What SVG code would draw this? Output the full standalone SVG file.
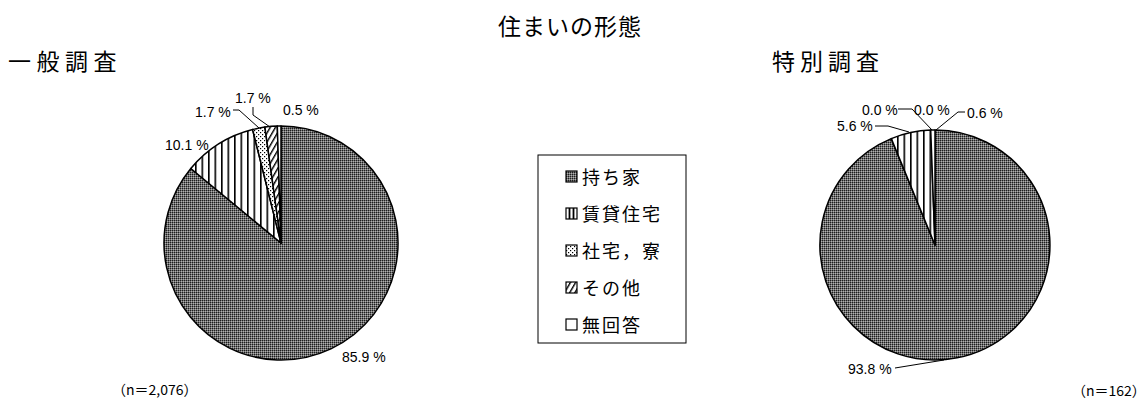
<svg xmlns="http://www.w3.org/2000/svg" width="1146" height="400" viewBox="0 0 1146 400">
<style>
.jp{font-family:"Noto Sans CJK JP","Noto Sans",sans-serif;fill:#000}
.num{font-family:"Liberation Sans",Arial,sans-serif;font-size:14px;fill:#000}
.slice{stroke:#000;stroke-width:1.5;stroke-linejoin:round}
.lead{fill:none;stroke:#000;stroke-width:1}
.mk{stroke:#000;stroke-width:1.2}
</style>
<defs>
<pattern id="pDense" width="2" height="2" patternUnits="userSpaceOnUse">
<rect width="2" height="2" fill="#6e6e6e"/>
<rect width="1" height="1" fill="#1e1e1e"/>
<rect x="1" y="1" width="1" height="1" fill="#b0b0b0"/>
</pattern>
<pattern id="pVert" width="6.5" height="10" patternUnits="userSpaceOnUse">
<rect width="6.5" height="10" fill="#fff"/>
<rect x="0" width="1.6" height="10" fill="#000"/>
</pattern>
<pattern id="pDots" width="4" height="4" patternUnits="userSpaceOnUse">
<rect width="4" height="4" fill="#fff"/>
<rect x="0" y="0" width="1.2" height="1.2" fill="#000"/>
<rect x="2" y="2" width="1.2" height="1.2" fill="#000"/>
</pattern>
<pattern id="pDiag" width="4.5" height="4.5" patternUnits="userSpaceOnUse" patternTransform="rotate(30)">
<rect width="4.5" height="4.5" fill="#fff"/>
<rect x="0" width="1.4" height="4.5" fill="#000"/>
</pattern>
</defs>
<rect width="1146" height="400" fill="#fff"/>

<text class="jp" x="498" y="35" font-size="23" letter-spacing="1">住まいの形態</text>
<text class="jp" x="8" y="70" font-size="23" letter-spacing="5.5">一般調査</text>
<text class="jp" x="772" y="70" font-size="23" letter-spacing="5">特別調査</text>

<g id="pie-general">
<path class="slice" fill="url(#pDense)" d="M281,243 L281,126 A117,117 0 1,1 190.8,168.5 Z"/>
<path class="slice" fill="url(#pVert)" d="M281,243 L190.8,168.5 A117,117 0 0,1 252.6,129.5 Z"/>
<path class="slice" fill="url(#pDots)" d="M281,243 L252.6,129.5 A117,117 0 0,1 264.9,127.1 Z"/>
<path class="slice" fill="url(#pDiag)" d="M281,243 L264.9,127.1 A117,117 0 0,1 277.3,126.1 Z"/>
<path class="slice" fill="#fff" d="M281,243 L277.3,126.1 A117,117 0 0,1 281,126 Z"/>
<text class="num" x="342" y="362">85.9 %</text>
<text class="num" x="165" y="150">10.1 %</text>
<text class="num" x="195" y="117">1.7 %</text>
<text class="num" x="235" y="103">1.7 %</text>
<text class="num" x="283" y="115">0.5 %</text>
<text class="jp" x="112" y="395" font-size="14">（n＝2,076）</text>
</g>

<g id="pie-special">
<path class="slice" fill="url(#pDense)" d="M935,245 L935,130 A115,115 0 1,1 891.3,138.6 Z"/>
<path class="slice" fill="url(#pVert)" d="M935,245 L891.3,138.6 A115,115 0 0,1 930.7,130.1 Z"/>
<path class="slice" fill="#fff" d="M935,245 L930.7,130.1 A115,115 0 0,1 935,130 Z"/>
<text class="num" x="848" y="374">93.8 %</text>
<text class="num" x="837" y="131">5.6 %</text>
<text class="num" x="862" y="115">0.0 %</text>
<text class="num" x="914" y="115">0.0 %</text>
<text class="num" x="967" y="118">0.6 %</text>
<text class="jp" x="1072" y="396" font-size="14">（n＝162）</text>
</g>

<g id="connectors">
<polyline class="lead" points="233,110 239,110 259,128"/>
<polyline class="lead" points="253,107 253,115 270,127"/>
<polyline class="lead" points="875,126 888,126 909,132"/>
<polyline class="lead" points="898,109 912,109 932,130"/>
<polyline class="lead" points="965,112 958,112 936,130"/>
<polyline class="lead" points="895,368 944,360"/>
</g>

<g id="legend">
<rect x="538" y="155" width="148" height="188" fill="#fff" stroke="#000" stroke-width="1"/>
<rect class="mk" x="566" y="171" width="11" height="11" fill="url(#pDense)"/>
<text class="jp" x="582" y="183.5" font-size="18" letter-spacing="2">持ち家</text>
<rect class="mk" x="566" y="208" width="11" height="11" fill="#fff"/>
<line x1="569.5" y1="208" x2="569.5" y2="219" stroke="#000" stroke-width="1.8"/>
<line x1="573.5" y1="208" x2="573.5" y2="219" stroke="#000" stroke-width="1.8"/>
<text class="jp" x="582" y="220.5" font-size="18" letter-spacing="2">賃貸住宅</text>
<rect class="mk" x="566" y="245" width="11" height="11" fill="url(#pDots)"/>
<text class="jp" x="582" y="257.5" font-size="18" letter-spacing="2">社宅，寮</text>
<rect class="mk" x="566" y="282" width="11" height="11" fill="url(#pDiag)"/>
<text class="jp" x="582" y="294.5" font-size="18" letter-spacing="2">その他</text>
<rect class="mk" x="566" y="319" width="11" height="11" fill="#fff"/>
<text class="jp" x="582" y="331.5" font-size="18" letter-spacing="2">無回答</text>
</g>
</svg>
